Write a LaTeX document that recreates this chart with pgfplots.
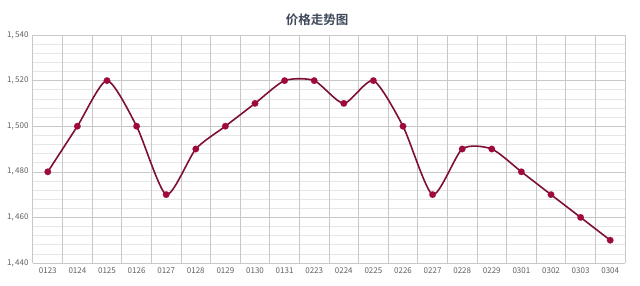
\documentclass[border=0pt]{standalone}
\usepackage{fontspec}
\usepackage{pgfplots}
\pgfplotsset{compat=1.18}
\setmainfont{Liberation Sans}
\newfontfamily\cjk{Noto Sans CJK SC}
\newfontfamily\cjkb{Noto Sans CJK SC Bold}
\definecolor{linec}{HTML}{7E0F38}
\definecolor{markc}{HTML}{9E0A3C}
\definecolor{gridmaj}{HTML}{C8C8C8}
\definecolor{gridmin}{HTML}{E6E6E6}
\definecolor{tickc}{HTML}{606060}
\definecolor{titlec}{HTML}{3E4A5A}
\begin{document}
\begin{tikzpicture}
\begin{axis}[name=ax,
  scale only axis, width=592pt, height=228pt,
  xmin=-0.5, xmax=19.5, ymin=1440, ymax=1540,
  xtick={0,...,19},
  xticklabels={0123,0124,0125,0126,0127,0128,0129,0130,0131,0223,0224,0225,0226,0227,0228,0229,0301,0302,0303,0304},
  extra x ticks={-0.5,0.5,1.5,2.5,3.5,4.5,5.5,6.5,7.5,8.5,9.5,10.5,11.5,12.5,13.5,14.5,15.5,16.5,17.5,18.5,19.5},
  extra x tick labels={},
  extra x tick style={grid=major, major grid style={gridmaj, line width=1pt}},
  ytick={1440,1460,...,1540},
  yticklabels={{1,\,440},{1,\,460},{1,\,480},{1,\,500},{1,\,520},{1,\,540}},
  minor y tick num=4,
  ymajorgrids, yminorgrids,
  major grid style={gridmaj, line width=0.6pt},
  minor grid style={gridmin, line width=0.6pt},
  axis line style={draw=none},
  major tick length=0pt, minor tick length=0pt,
  tick style={draw=none},
  xticklabel style={font=\fontsize{8}{9}\selectfont\cjk, text=tickc, yshift=-1pt},
  yticklabel style={font=\fontsize{8}{9}\selectfont\cjk, text=tickc, xshift=-1pt},
  title={\fontsize{12.5}{14}\selectfont\cjkb 价格走势图},
  title style={text=titlec, at={(0.48,1)}, anchor=south, yshift=0pt},
  clip=false,
]
\addplot[linec, line width=1.6pt, smooth, tension=0.4,
  mark=*, mark size=3.3pt, mark options={fill=markc, draw=markc, line width=0.1pt, solid}]
  coordinates {
  (0,1480) (1,1500) (2,1520) (3,1500) (4,1470) (5,1490) (6,1500) (7,1510)
  (8,1520) (9,1520) (10,1510) (11,1520) (12,1500) (13,1470) (14,1490) (15,1490)
  (16,1480) (17,1470) (18,1460) (19,1450)};
\end{axis}
\path[use as bounding box] ([xshift=-33pt,yshift=-22pt]ax.south west) rectangle ([xshift=15pt,yshift=35pt]ax.north east);
\end{tikzpicture}
\end{document}
